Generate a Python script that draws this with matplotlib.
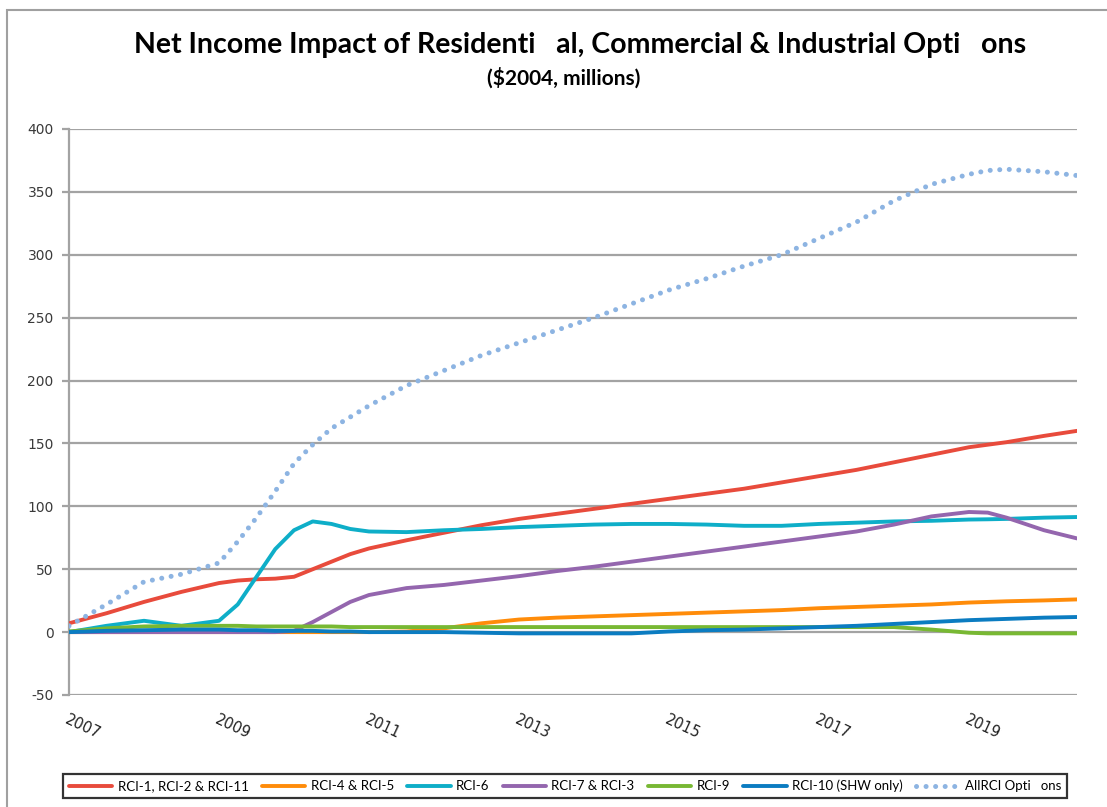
""" net income impact of RCI options, redrawn from the chart """
import matplotlib
matplotlib.use("Agg")
import matplotlib.pyplot as plt
from matplotlib.patches import Rectangle

plt.rcParams["axes.unicode_minus"] = False

years = [2007, 2007.5, 2008, 2008.5, 2009, 2009.25, 2009.5, 2009.75, 2010,
         2010.25, 2010.5, 2010.75, 2011, 2011.5, 2012, 2012.5, 2013, 2013.5,
         2014, 2014.5, 2015, 2015.5, 2016, 2016.5, 2017, 2017.5, 2018, 2018.5,
         2019, 2019.25, 2019.5, 2020, 2020.44]

rci_1_2_11 = [7, 15, 24, 32, 39, 41, 42, 42.5, 44, 50, 56, 62, 66.5, 73, 79, 85,
              90, 94, 98, 102, 106, 110, 114, 119, 124, 129, 135, 141, 147, 149,
              151, 156, 160]
rci_4_5 = [0, 0, 0, 0, 0, 0, 0, 0, 0, 0, 0, 0, 0, 0.5, 3, 7, 10, 11.5, 12.5,
           13.5, 14.5, 15.5, 16.5, 17.5, 19, 20, 21, 22, 23.5, 24, 24.5, 25.2, 26]
rci_6 = [0, 5, 9, 5, 9, 22, 44, 66, 81, 88, 86, 82, 80, 79.5, 81, 82, 83.5,
         84.5, 85.5, 86, 86, 85.5, 84.5, 84.5, 86, 87, 88, 88.5, 89.5, 89.7, 90,
         91, 91.5]
rci_7_3 = [0, 0, 0, 0, 0, 0, 0, 0, 1, 8, 16, 24, 29.5, 35, 37.5, 41, 44.5, 48.5,
           52, 56, 60, 64, 68, 72, 76, 80, 85.5, 92, 95.5, 95, 91, 81, 74.5]
rci_9 = [0.5, 3, 4.5, 5, 5, 5, 4.5, 4.5, 4.5, 4.5, 4.5, 4, 4, 4, 4, 4, 4, 4,
         4, 4, 4, 4, 4, 4, 4, 4, 4, 2, -0.5, -1, -1, -1, -1]
rci_10 = [0, 1, 1.5, 2, 2, 1.5, 1.5, 1, 1, 1, 0.5, 0.5, 0, 0, 0, -0.5, -1, -1,
          -1, -1, 0.5, 1.5, 2, 3, 4, 5, 6.5, 8, 9.5, 10, 10.5, 11.5, 12]
all_rci = [5, 22, 40, 46, 55, 72, 91, 112, 134, 149, 162, 171, 180, 196, 208,
           220, 230, 240, 250, 261, 272, 281, 291, 300, 313, 326, 343, 356, 364,
           367, 368, 366, 363]

series = [
    ("RCI-1, RCI-2 & RCI-11", rci_1_2_11, "#e84b3c"),
    ("RCI-4 & RCI-5", rci_4_5, "#ff8c0a"),
    ("RCI-6", rci_6, "#0eaec8"),
    ("RCI-7 & RCI-3", rci_7_3, "#9466ae"),
    ("RCI-9", rci_9, "#78b833"),
    ("RCI-10 (SHW only)", rci_10, "#0b7cc1"),
]
x_ticks = [2007, 2009, 2011, 2013, 2015, 2017, 2019]
y_ticks = list(range(-50, 401, 50))

fig = plt.figure(figsize=(11.07, 8.07), dpi=100, facecolor="w")
ax = fig.add_axes([69 / 1107, 1 - 695 / 807, 1008 / 1107, 566 / 807])

grid_col = "#a3a3a3"
for t in y_ticks:
    ax.axhline(t, color=grid_col, lw=1.6, zorder=1)

# draw order: solid series, the combined dotted one on top
for name, vals, col in series:
    ax.plot(years, vals, color=col, lw=2.8, label=name, zorder=3,
            solid_capstyle="round")
ax.plot(years, all_rci, color="#8db4e2", lw=3.6, linestyle=(0, (0.01, 1.9)),
        dash_capstyle="round", label="AllRCI Opti   ons", zorder=4)

ax.set_xlim(2007, 2020.44)
ax.set_ylim(-50, 400)
ax.set_yticks(y_ticks)
ax.set_xticks(x_ticks)
ax.set_xticklabels([str(t) for t in x_ticks], rotation=-25, ha="left", va="top",
                   rotation_mode="anchor")
for s in ["top", "right", "bottom"]:
    ax.spines[s].set_visible(False)
ax.spines["left"].set_color(grid_col)
ax.spines["left"].set_linewidth(1.6)
ax.tick_params(axis="y", length=5, width=1.6, color=grid_col, pad=6,
               labelsize=10, labelcolor="#3a3a3a")
ax.tick_params(axis="x", length=0, pad=12, labelsize=10.5, labelcolor="#222222")

fig.text(0.524, 0.944, "Net Income Impact of Residenti   al, Commercial & Industrial Opti   ons",
         ha="center", va="center", fontsize=20.5, fontweight="bold", family="Lato")
fig.text(0.509, 0.903, "($2004, millions)", ha="center", va="center",
         fontsize=15, fontweight="bold", family="Lato")

leg = fig.legend(loc="center left", bbox_to_anchor=(63 / 1107, 1 - 786 / 807),
                 ncol=7, frameon=True, fancybox=False, handlelength=3.3,
                 handletextpad=0.4, columnspacing=1.0, borderpad=0.45,
                 borderaxespad=0,
                 prop={"family": "Lato", "size": 9.5})
leg.get_frame().set_edgecolor("black")
leg.get_frame().set_linewidth(1.6)

# outer chart border
fig.patches.append(Rectangle((7 / 1107, -0.1), 1.2, 1.1 - 10 / 807, transform=fig.transFigure,
                             fill=False, edgecolor="#a0a0a0", lw=1.5))

plt.savefig("out.png", dpi=100, facecolor="w")
